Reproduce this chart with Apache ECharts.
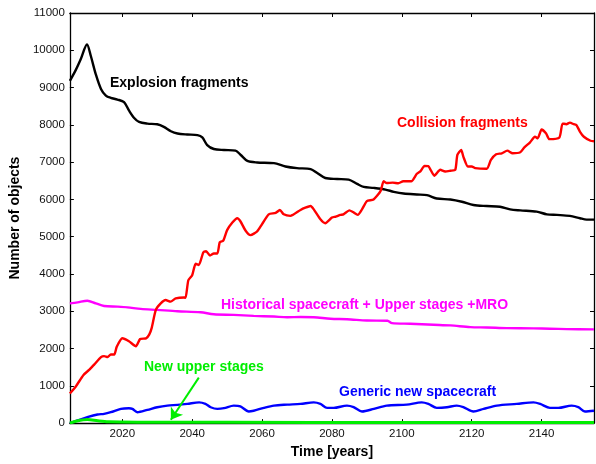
<!DOCTYPE html>
<html>
<head>
<meta charset="utf-8">
<script src="https://cdn.jsdelivr.net/npm/echarts@6/dist/echarts.min.js"></script>
<style>
  html, body { margin: 0; padding: 0; background: #fff; }
  #chart { width: 596px; height: 464px; }
</style>
</head>
<body>
<div id="chart"></div>
<script>
// ---- data: [year, number of objects] ----
const explosionData = [
  [2005, 9180], [2006.7, 9475], [2008.1, 9760], [2009.9, 10157], [2011, 9846],
  [2012.4, 9361], [2013.9, 8963], [2015.3, 8785], [2016.7, 8724], [2018.6, 8679],
  [2020.5, 8609], [2021.9, 8387], [2023.4, 8185], [2024.8, 8079], [2027.2, 8034],
  [2030, 8015], [2031.9, 7946], [2033.9, 7829], [2035.8, 7768], [2038.6, 7741],
  [2041.5, 7723], [2042.9, 7662], [2044.3, 7458], [2046.2, 7352], [2049.1, 7325],
  [2052.4, 7308], [2053.9, 7192], [2055.8, 7033], [2058.6, 6991], [2063.4, 6972],
  [2066.7, 6884], [2070, 6839], [2073.9, 6813], [2075.8, 6707], [2078.1, 6574],
  [2081.5, 6547], [2084.8, 6529], [2087.2, 6415], [2089.1, 6335], [2091.9, 6309],
  [2095.3, 6264], [2097.7, 6203], [2100.5, 6157], [2104.3, 6131], [2107.2, 6115],
  [2110, 6025], [2113.9, 5998], [2117.2, 5937], [2120.5, 5849], [2124.3, 5823],
  [2128.1, 5804], [2131, 5733], [2133.9, 5706], [2138.6, 5672], [2141.5, 5600],
  [2144.4, 5584], [2148.1, 5557], [2151, 5494], [2152.9, 5459], [2155, 5459]
];

const collisionData = [
  [2005, 796], [2006.7, 982], [2008.9, 1293], [2010.5, 1425], [2012, 1576],
  [2013.9, 1770], [2014.8, 1797], [2015.8, 1770], [2016.7, 1841], [2017.7, 1841],
  [2018.4, 2044], [2020, 2274], [2021.9, 2195], [2023.9, 2062], [2025.1, 2256],
  [2026.8, 2274], [2027.7, 2372], [2028.4, 2548], [2029.6, 3036], [2031, 3211],
  [2032.4, 3301], [2033.8, 3257], [2035.3, 3344], [2037.7, 3370], [2038.1, 3360],
  [2038.9, 3832], [2040, 3965], [2041, 4273], [2041.9, 4240], [2043.2, 4584],
  [2044, 4610], [2045.1, 4496], [2046.2, 4550], [2047.2, 4550], [2047.9, 4849],
  [2048.9, 4894], [2050, 5176], [2051.5, 5380], [2052.9, 5494], [2053.8, 5414],
  [2055.3, 5160], [2056.7, 5043], [2058.6, 5141], [2060, 5335], [2061.9, 5600],
  [2063.9, 5637], [2065.1, 5717], [2066.2, 5600], [2068.1, 5557], [2071, 5717],
  [2072.4, 5778], [2073.9, 5823], [2074.8, 5733], [2076.7, 5467], [2078.1, 5361],
  [2080, 5512], [2081.1, 5538], [2082.4, 5584], [2083.3, 5600], [2085, 5706],
  [2086, 5662], [2087.4, 5584], [2088.6, 5733], [2090, 5955], [2091.9, 5998],
  [2093.9, 6221], [2094.8, 6486], [2095.7, 6440], [2097.4, 6450], [2099, 6433],
  [2100.4, 6486], [2102.7, 6486], [2104.3, 6688], [2105.3, 6752], [2106.5, 6895],
  [2107.6, 6890], [2108.2, 6800], [2109.3, 6635], [2111, 6794], [2112.4, 6750],
  [2113.9, 6770], [2115.3, 6794], [2115.9, 7192], [2117, 7325], [2117.6, 7148],
  [2118.9, 6884], [2120, 6884], [2121, 6839], [2124.3, 6821], [2125.5, 7060],
  [2127, 7210], [2128.6, 7237], [2130.2, 7308], [2131.7, 7237], [2133.9, 7264],
  [2135, 7389], [2136.7, 7530], [2138.1, 7680], [2138.9, 7640], [2140, 7875],
  [2141.3, 7769], [2142.2, 7617], [2145.1, 7662], [2146, 8034], [2147.1, 8017],
  [2148.1, 8060], [2149.2, 8017], [2150, 7990], [2151, 7813], [2152.1, 7680],
  [2154, 7574], [2155, 7560]
];

const historicalData = [
  [2005, 3211], [2007.2, 3238], [2010, 3283], [2012.4, 3211], [2014.8, 3142],
  [2018.6, 3124], [2021.5, 3105], [2025.3, 3063], [2030, 3036], [2035.8, 3000],
  [2042.4, 2973], [2046.2, 2919], [2051.9, 2903], [2057.6, 2877], [2063.4, 2858],
  [2067.2, 2840], [2071, 2845], [2074.8, 2840], [2079.6, 2797], [2084.3, 2787],
  [2090, 2752], [2095.9, 2744], [2097.2, 2681], [2102.4, 2665], [2109.1, 2638],
  [2113.9, 2620], [2119.6, 2574], [2124.3, 2566], [2130, 2548], [2137.7, 2540],
  [2142.4, 2532], [2147.2, 2521], [2155, 2513]
];

const genericData = [
  [2005, 0], [2007.2, 71], [2010, 159], [2012.9, 231], [2014.8, 249],
  [2016.7, 292], [2019.6, 382], [2021.9, 398], [2022.9, 380], [2024.3, 292],
  [2027.2, 356], [2030, 425], [2032.9, 470], [2035.8, 488], [2038.6, 515],
  [2042, 557], [2043.8, 515], [2045.3, 425], [2047.2, 382], [2049.1, 400],
  [2051.9, 470], [2053.8, 450], [2056.2, 311], [2057.6, 332], [2060.5, 409],
  [2063.4, 470], [2067.2, 496], [2071, 515], [2074.8, 557], [2076.7, 515],
  [2078.6, 409], [2080.5, 409], [2084.3, 470], [2086.2, 430], [2088.6, 311],
  [2092, 382], [2095.7, 470], [2101.4, 496], [2105.7, 557], [2107.6, 515],
  [2110, 409], [2112.9, 425], [2115.7, 470], [2117.6, 430], [2120.5, 311],
  [2123.4, 382], [2127.2, 470], [2132.9, 515], [2137.7, 557], [2139.6, 515],
  [2142.4, 409], [2144.8, 409], [2148.6, 470], [2150.5, 430], [2152.4, 311],
  [2155, 332]
];

const upperStageData = [
  [2005, 0], [2007, 55], [2010, 95], [2013, 60], [2016, 35],
  [2025, 25], [2050, 20], [2100, 18], [2155, 15]
];

// arrow from the "New upper stages" label down to the curve
const arrowFrom = [2041.9, 1220];
const arrowTo = [2033.9, 90];

const yearTicks = [2020, 2040, 2060, 2080, 2100, 2120, 2140];

const FONT = '"Liberation Sans", Arial, Helvetica, sans-serif';

const chart = echarts.init(document.getElementById('chart'), null, { renderer: 'canvas' });

const frameLine = { show: true, onZero: false, lineStyle: { color: '#000', width: 1.3 } };
const innerTick = { show: true, inside: true, length: 4, lineStyle: { color: '#000', width: 1 } };
const plain = v => String(v);

function lineSeries(name, data, color, extra) {
  return Object.assign({
    name: name,
    type: 'line',
    data: data,
    xAxisIndex: 0,
    yAxisIndex: 0,
    showSymbol: false,
    smooth: 0.3,
    lineStyle: { color: color, width: 2.4 },
    itemStyle: { color: color },
    animation: false,
    z: 3
  }, extra || {});
}

const option = {
  animation: false,
  backgroundColor: '#fff',
  grid: { left: 69, right: 2, top: 13, bottom: 36, containLabel: false },
  xAxis: [
    {
      type: 'value', position: 'bottom', min: 2005, max: 2155,
      name: 'Time [years]', nameLocation: 'middle', nameGap: 19,
      nameTextStyle: { fontFamily: FONT, fontSize: 14, fontWeight: 'bold', color: '#000' },
      axisLine: frameLine,
      axisTick: Object.assign({ customValues: yearTicks }, innerTick),
      axisLabel: { customValues: yearTicks, formatter: plain, margin: 5, fontFamily: FONT, fontSize: 11.5, color: '#111' },
      splitLine: { show: false }
    },
    {
      type: 'value', position: 'top', min: 2005, max: 2155,
      axisLine: frameLine,
      axisTick: Object.assign({ customValues: yearTicks }, innerTick),
      axisLabel: { show: false },
      splitLine: { show: false }
    }
  ],
  yAxis: [
    {
      type: 'value', position: 'left', min: 0, max: 11000, interval: 1000,
      name: 'Number of objects', nameLocation: 'middle', nameGap: 42,
      nameTextStyle: { fontFamily: FONT, fontSize: 14, fontWeight: 'bold', color: '#000' },
      axisLine: frameLine,
      axisTick: innerTick,
      axisLabel: { formatter: plain, margin: 5, fontFamily: FONT, fontSize: 11.5, color: '#111' },
      splitLine: { show: false }
    },
    {
      type: 'value', position: 'right', min: 0, max: 11000, interval: 1000,
      axisLine: frameLine,
      axisTick: innerTick,
      axisLabel: { show: false },
      splitLine: { show: false }
    }
  ],
  series: [
    lineSeries('Historical spacecraft + Upper stages +MRO', historicalData, '#ff00ff'),
    lineSeries('Explosion fragments', explosionData, '#000000'),
    lineSeries('Collision fragments', collisionData, '#ff0000', { smooth: 0.2 }),
    lineSeries('Generic new spacecraft', genericData, '#0000ff'),
    lineSeries('New upper stages', upperStageData, '#00ee00', {
      lineStyle: { color: '#00ee00', width: 3 },
      z: 4,
      markLine: {
        silent: true,
        animation: false,
        symbol: ['none', 'arrow'],
        symbolSize: 11,
        label: { show: false },
        lineStyle: { color: '#00ee00', width: 2, type: 'solid' },
        data: [[{ coord: arrowFrom }, { coord: arrowTo }]]
      }
    })
  ],
  graphic: [
    { type: 'text', left: 110, top: 76,
      style: { text: 'Explosion fragments', fill: '#000', font: 'bold 14px ' + FONT } },
    { type: 'text', left: 397, top: 116,
      style: { text: 'Collision fragments', fill: '#ff0000', font: 'bold 14px ' + FONT } },
    { type: 'text', left: 221, top: 298,
      style: { text: 'Historical spacecraft + Upper stages +MRO', fill: '#ff00ff', font: 'bold 14px ' + FONT } },
    { type: 'text', left: 144, top: 360,
      style: { text: 'New upper stages', fill: '#00ee00', font: 'bold 14px ' + FONT } },
    { type: 'text', left: 339, top: 385,
      style: { text: 'Generic new spacecraft', fill: '#0000ff', font: 'bold 14px ' + FONT } }
  ]
};

chart.setOption(option);
</script>
</body>
</html>
